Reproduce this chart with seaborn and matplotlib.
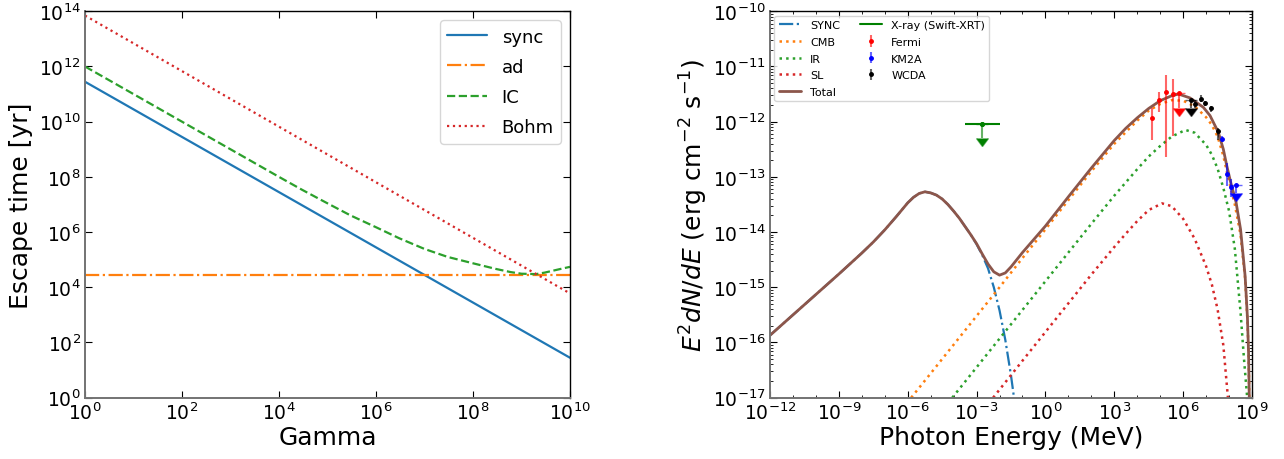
import numpy as np
import pandas as pd
import matplotlib
matplotlib.use("Agg")
import matplotlib.pyplot as plt
import matplotlib.ticker as mticker
from matplotlib.lines import Line2D
import seaborn as sns

# ---------------- Left panel: escape time vs Gamma ----------------
gamma_sync = [1.0, 1e10]
t_sync = [2.8e11, 28.0]
gamma_ad = [1.0, 1e10]
t_ad = [2.9e4, 2.9e4]
gamma_ic = [1, 1e1, 1e2, 1e3, 1e4, 3e4, 1e5, 3e5, 1e6, 3e6, 1e7, 3e7, 1e8, 3e8,
            6e8, 1e9, 2e9, 3e9, 6e9, 1e10]
t_ic = [1.0e12, 1.0e11, 1.0e10, 1.0e9, 1.0e8, 3.4e7, 1.1e7, 4.0e6, 1.5e6, 6.0e5,
        2.45e5, 1.26e5, 7.4e4, 4.6e4, 3.55e4, 3.1e4, 3.0e4, 3.4e4, 4.5e4, 5.5e4]
gamma_bohm = [1.0, 1e10]
t_bohm = [7.0e13, 6.0e3]

# ---------------- Right panel: SED (log10 values) ----------------
sync_lgE = [-12, -11, -10, -9, -8, -7.5, -7, -6.5, -6, -5.75, -5.5, -5.25, -5, -4.75,
            -4.5, -4.25, -4, -3.75, -3.5, -3.25, -3, -2.75, -2.5, -2.25, -2.0, -1.75,
            -1.5, -1.37]
sync_lgF = [-15.87, -15.50, -15.13, -14.76, -14.38, -14.18, -13.96, -13.72, -13.47, -13.37,
            -13.30, -13.27, -13.29, -13.33, -13.40, -13.50, -13.62, -13.75, -13.90, -14.05,
            -14.22, -14.42, -14.66, -15.0, -15.42, -15.95, -16.6, -17.0]
cmb_lgE = [-5.85, -5, -4, -3, -2, -1, 0, 1, 2, 3, 4, 4.5, 5, 5.5, 6, 6.5, 7, 7.25, 7.5,
           7.75, 7.9, 8.1, 8.25, 8.5, 8.7, 8.8, 8.85, 8.88]
cmb_lgF = [-17.0, -16.56, -16.04, -15.52, -15.0, -14.47, -13.95, -13.42, -12.9, -12.4,
           -11.98, -11.8, -11.68, -11.61, -11.62, -11.72, -11.92, -12.06, -12.27,
           -12.62, -12.9, -13.25, -13.5, -14.05, -14.85, -15.6, -16.2, -17.0]
ir_lgE = [-4.06, -3, -2, -1, 0, 1, 2, 3, 4, 4.5, 5, 5.5, 6.1, 6.5, 7, 7.25, 7.5, 7.75,
          8, 8.25, 8.5, 8.65, 8.79]
ir_lgF = [-17.0, -16.45, -15.93, -15.41, -14.89, -14.37, -13.85, -13.34, -12.86, -12.63,
          -12.44, -12.27, -12.15, -12.2, -12.42, -12.6, -12.85, -13.2, -13.62, -14.3,
          -15.45, -16.3, -17.0]
sl_lgE = [-2.28, -1, 0, 1, 2, 3, 3.5, 4, 4.5, 5.08, 5.5, 6, 6.5, 7, 7.25, 7.5, 7.75, 7.95]
sl_lgF = [-17.0, -16.33, -15.81, -15.29, -14.77, -14.27, -14.03, -13.8, -13.6, -13.48,
          -13.53, -13.76, -14.12, -14.62, -14.95, -15.4, -16.05, -17.0]
tot_lgE = [-12, -11, -10, -9, -8, -7.5, -7, -6.5, -6, -5.75, -5.5, -5.25, -5, -4.75,
           -4.5, -4.25, -4, -3.75, -3.5, -3.25, -3, -2.75, -2.5, -2.25, -2.0, -1.75,
           -1.5, -1.25, -1, -0.5, 0, 1, 2, 3, 3.5, 4, 4.5, 5, 5.5, 5.8, 6.3, 6.88, 7.17,
           7.53, 7.75, 7.9, 8.1, 8.3, 8.5, 8.7, 8.8, 8.85, 8.88]
tot_lgF = [-15.87, -15.50, -15.13, -14.76, -14.38, -14.18, -13.96, -13.72, -13.47, -13.37,
           -13.30, -13.27, -13.29, -13.33, -13.40, -13.50, -13.62, -13.75, -13.90, -14.05,
           -14.21, -14.40, -14.58, -14.72, -14.78, -14.74, -14.63, -14.50, -14.37, -14.13,
           -13.89, -13.36, -12.84, -12.34, -12.12, -11.93, -11.76, -11.62, -11.53, -11.50,
           -11.57, -11.74, -11.89, -12.19, -12.5, -12.8, -13.15, -13.45, -13.95, -14.8,
           -15.55, -16.2, -17.0]

# X-ray upper limit (Swift-XRT)
xray_E = [1.7e-3]
xray_F = [9.0e-13]
xray_Elo = [3.0e-4]
xray_Ehi = [1.0e-2]
xray_Flo = [5.0e-13]

# Fermi points
fermi_E = [4.3e4, 8.7e4, 1.74e5, 3.55e5]
fermi_F = [1.18e-12, 2.5e-12, 3.5e-12, 3.2e-12]
fermi_Flo = [4.6e-13, 1.5e-12, 2.3e-13, 5.5e-13]
fermi_Fhi = [1.8e-12, 3.5e-12, 6.9e-12, 5.9e-12]
fermi_ul_E = [6.8e5]
fermi_ul_F = [3.3e-12]
fermi_ul_Flo = [1.75e-12]

# WCDA points
wcda_E = [3.4e6, 5.9e6, 9.3e6, 1.58e7, 3.2e7]
wcda_F = [2.1e-12, 2.57e-12, 2.15e-12, 1.74e-12, 6.8e-13]
wcda_Flo = [1.78e-12, 2.24e-12, 1.95e-12, 1.51e-12, 4.6e-13]
wcda_Fhi = [2.5e-12, 3.0e-12, 2.35e-12, 1.95e-12, 7.8e-13]
wcda_ul_E = [2.1e6]
wcda_ul_F = [2.45e-12]
wcda_ul_Flo = [1.75e-12]

# KM2A points
km2a_E = [4.8e7, 7.9e7, 1.26e8]
km2a_F = [4.9e-13, 1.12e-13, 6.6e-14]
km2a_Flo = [4.3e-13, 6.9e-14, 4.4e-14]
km2a_Fhi = [5.6e-13, 1.78e-13, 9.1e-14]
km2a_ul_E = [2.05e8]
km2a_ul_F = [7.0e-14]
km2a_ul_Flo = [5.2e-14]

# ---------------- style ----------------
sns.set_style("ticks")
plt.rcParams["font.family"] = ["DejaVu Sans"]
plt.rcParams["mathtext.fontset"] = "dejavusans"
plt.rcParams["xtick.direction"] = "in"
plt.rcParams["ytick.direction"] = "in"
plt.rcParams["xtick.top"] = True
plt.rcParams["ytick.right"] = True
plt.rcParams["text.color"] = "black"
plt.rcParams["axes.labelcolor"] = "black"
plt.rcParams["xtick.color"] = "black"
plt.rcParams["ytick.color"] = "black"
plt.rcParams["axes.edgecolor"] = "black"
plt.rcParams["axes.linewidth"] = 1.0

pal = sns.color_palette("tab10")

fig = plt.figure(figsize=(12.84, 4.6), dpi=100)
ax1 = fig.add_axes([0.0662, 0.1333, 0.3777, 0.84])
ax2 = fig.add_axes([0.5997, 0.1333, 0.3754, 0.84])

for ax in (ax1, ax2):
    for s in ("left", "bottom"):
        ax.spines[s].set_color("0.45")
        ax.spines[s].set_linewidth(1.4)

# ---- left panel
sns.lineplot(x=gamma_sync, y=t_sync, ax=ax1, color=pal[0], lw=1.6, label="sync")
sns.lineplot(x=gamma_ad, y=t_ad, ax=ax1, color=pal[1], lw=1.6, linestyle="-.", label="ad")
sns.lineplot(x=gamma_ic, y=t_ic, ax=ax1, color=pal[2], lw=1.6, linestyle="--", label="IC")
sns.lineplot(x=gamma_bohm, y=t_bohm, ax=ax1, color=pal[3], lw=1.6, linestyle=":", label="Bohm")
ax1.set_xscale("log")
ax1.set_yscale("log")
ax1.set_xlim(1, 1e10)
ax1.set_ylim(1, 1e14)
ax1.xaxis.set_major_locator(mticker.LogLocator(base=100.0, numticks=20))
ax1.yaxis.set_major_locator(mticker.LogLocator(base=100.0, numticks=20))
ax1.xaxis.set_minor_locator(mticker.NullLocator())
ax1.yaxis.set_minor_locator(mticker.NullLocator())
ax1.set_xlabel("Gamma", fontsize=18, labelpad=1)
ax1.set_ylabel("Escape time [yr]", fontsize=18, labelpad=4)
ax1.tick_params(which="major", labelsize=13.5, length=5, width=0.8, pad=3)
ax1.legend(loc="upper right", fontsize=13, handlelength=2.2, framealpha=0.8,
           edgecolor="0.8", fancybox=True, labelspacing=0.68)

# ---- right panel
def lineplot(lgE, lgF, **kw):
    sns.lineplot(x=10.0 ** np.asarray(lgE), y=10.0 ** np.asarray(lgF), ax=ax2, sort=False, **kw)

lineplot(sync_lgE, sync_lgF, color=pal[0], lw=1.6, linestyle="-.")
lineplot(cmb_lgE, cmb_lgF, color=pal[1], lw=1.8, linestyle=":")
lineplot(ir_lgE, ir_lgF, color=pal[2], lw=1.8, linestyle=":")
lineplot(sl_lgE, sl_lgF, color=pal[3], lw=1.8, linestyle=":")
lineplot(tot_lgE, tot_lgF, color=pal[5], lw=2.0, linestyle="-")

def eb(E, F, Flo, Fhi, color, label=None):
    F = np.asarray(F)
    yerr = [F - np.asarray(Flo), np.asarray(Fhi) - F]
    return ax2.errorbar(E, F, yerr=yerr, fmt="o", ms=2.5, color=color,
                        ecolor=matplotlib.colors.to_rgba(color, 0.6), elinewidth=1.5,
                        capsize=0, label=label, zorder=5)

def ul(E, F, Flo, color):
    F = np.asarray(F)
    ax2.errorbar(E, F, yerr=F - np.asarray(Flo), uplims=True, fmt="o", ms=2.5, color=color,
                 ecolor=matplotlib.colors.to_rgba(color, 0.6), elinewidth=1.5, capsize=4,
                 zorder=5)

# X-ray: horizontal band (no caps) plus downward arrow
xe = np.asarray(xray_E)
ax2.errorbar(xray_E, xray_F, xerr=[xe - np.asarray(xray_Elo), np.asarray(xray_Ehi) - xe],
             fmt="o", ms=2.5, color="green", ecolor="green", elinewidth=1.5, capsize=0, zorder=5)
ul(xray_E, xray_F, xray_Flo, "green")

h_fermi = eb(fermi_E, fermi_F, fermi_Flo, fermi_Fhi, "red", "Fermi")
ul(fermi_ul_E, fermi_ul_F, fermi_ul_Flo, "red")
h_km2a = eb(km2a_E, km2a_F, km2a_Flo, km2a_Fhi, "blue", "KM2A")
ul(km2a_ul_E, km2a_ul_F, km2a_ul_Flo, "blue")
h_wcda = eb(wcda_E, wcda_F, wcda_Flo, wcda_Fhi, "black", "WCDA")
ul(wcda_ul_E, wcda_ul_F, wcda_ul_Flo, "black")

ax2.set_xscale("log")
ax2.set_yscale("log")
ax2.set_xlim(1e-12, 1e9)
ax2.set_ylim(1e-17, 1e-10)
ax2.xaxis.set_major_locator(mticker.LogLocator(base=1000.0, numticks=20))
ax2.xaxis.set_minor_locator(mticker.LogLocator(base=10.0, subs=(1.0,), numticks=40))
ax2.yaxis.set_major_locator(mticker.LogLocator(base=10.0, numticks=20))
ax2.yaxis.set_minor_locator(mticker.LogLocator(base=10.0, subs=np.arange(2, 10), numticks=40))
ax2.xaxis.set_minor_formatter(mticker.NullFormatter())
ax2.yaxis.set_minor_formatter(mticker.NullFormatter())
ax2.tick_params(which="major", labelsize=13.5, length=5, width=0.8, pad=3)
ax2.tick_params(which="minor", length=2.5, width=0.6)
ax2.set_xlabel("Photon Energy (MeV)", fontsize=18, labelpad=1)
ax2.set_ylabel(r"$E^2dN/dE$ (erg cm$^{-2}$ s$^{-1}$)", fontsize=18, labelpad=2)

handles = [Line2D([], [], color=pal[0], lw=1.6, linestyle="-."),
           Line2D([], [], color=pal[1], lw=1.8, linestyle=":"),
           Line2D([], [], color=pal[2], lw=1.8, linestyle=":"),
           Line2D([], [], color=pal[3], lw=1.8, linestyle=":"),
           Line2D([], [], color=pal[5], lw=2.0),
           Line2D([], [], color="green", lw=1.5),
           h_fermi, h_km2a, h_wcda]
labels = ["SYNC", "CMB", "IR", "SL", "Total", "X-ray (Swift-XRT)", "Fermi", "KM2A", "WCDA"]
ax2.legend(handles, labels, loc="upper left", ncol=2, fontsize=8, framealpha=0.8,
           edgecolor="0.8", labelspacing=0.6, columnspacing=1.8, borderaxespad=0.4)

fig.savefig("out.png", dpi=100)
